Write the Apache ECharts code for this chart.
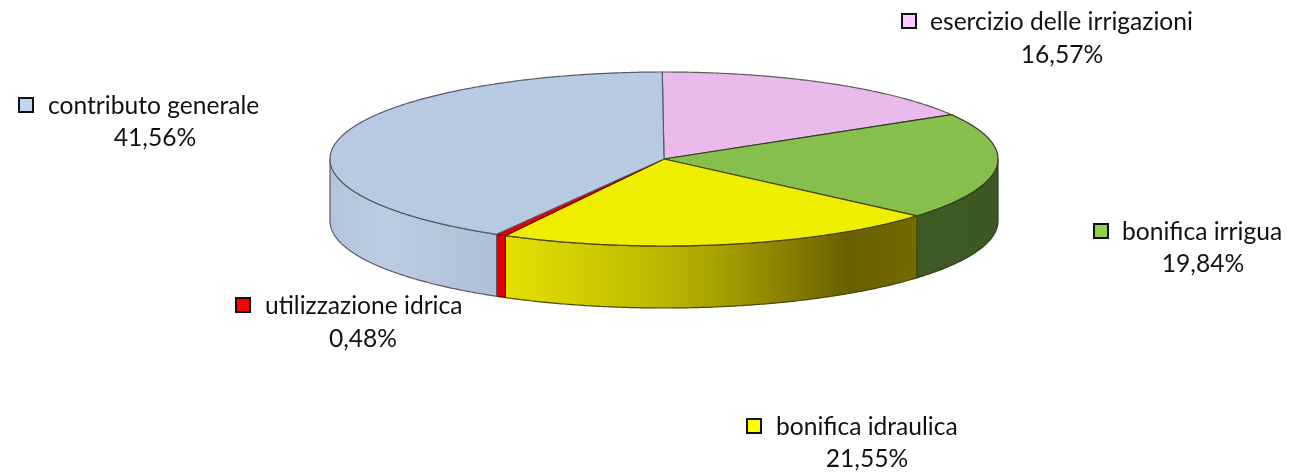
<!DOCTYPE html>
<html>
<head>
<meta charset="utf-8">
<style>
  html, body { margin: 0; padding: 0; background: #fff; }
  #chart { width: 1289px; height: 474px; }
</style>
<script src="https://cdn.jsdelivr.net/npm/echarts@6/dist/echarts.min.js"></script>
</head>
<body>
<div id="chart"></div>
<script>
// clockwise from 12 o'clock
const categories = ['esercizio delle irrigazioni', 'bonifica irrigua', 'bonifica idraulica', 'utilizzazione idrica', 'contributo generale'];
const shares = [16.57, 19.84, 21.55, 0.48, 41.56];
const shareLabels = ['16,57%', '19,84%', '21,55%', '0,48%', '41,56%'];

const topColors = ['#eabbea', '#86bf4c', '#f0ee00', '#e60000', '#b8cae1'];
const keyColors = ['#ffccff', '#92d050', '#ffff00', '#ff0000', '#c0d5ee'];
const wallColors = [
  ['#eabbea', '#eabbea'],
  ['#3f5b25', '#3c5723'],
  ['#e4e000', '#d4cf00', '#c2bc00', '#aaa400', '#8c8300', '#686000', '#746a00'],
  ['#e60000', '#e60000'],
  ['#b3c4da', '#bccde3', '#b4c5dc', '#aebfd6']
];
const edgeColors = ['#5c5c5c', '#2f3f1c', '#4a4500', '#7a0000', '#555c68'];

// legend key left edge, key centre y, text left edge, text centre x, second row centre y
const labelBoxes = [
  [901, 21, 930, 1062, 55],
  [1093, 231, 1122, 1203, 264],
  [746, 426, 776, 867, 459],
  [235, 305, 265, 363, 339],
  [18, 105, 48, 155, 138]
];

const cx = 664, cy = 159, rx = 334, ry = 87, depth = 62;
const startAngle = -0.3 * Math.PI / 180;
const total = shares.reduce((a, b) => a + b, 0);

function rimPoint(angle, dy) {
  return [cx + rx * Math.sin(angle), cy + dy - ry * Math.cos(angle)];
}

function arcPoints(from, to, dy) {
  let pts = [];
  let steps = Math.max(2, Math.ceil((to - from) * 120));
  for (let i = 0; i <= steps; i++) {
    pts.push(rimPoint(from + (to - from) * i / steps, dy));
  }
  return pts;
}

function wallGradient(stops) {
  return new echarts.graphic.LinearGradient(0, 0, 1, 0, stops.map((color, i) => ({
    offset: i / (stops.length - 1),
    color: color
  })));
}

function renderSlice(params, api) {
  let idx = params.dataIndex;
  let before = shares.slice(0, idx).reduce((a, b) => a + b, 0);
  let from = startAngle + before / total * Math.PI * 2;
  let to = startAngle + (before + api.value(0)) / total * Math.PI * 2;
  let children = [];

  // only the front half of the rim shows a wall
  let wallFrom = Math.max(from, Math.PI / 2);
  let wallTo = Math.min(to, Math.PI * 1.5);
  if (wallTo > wallFrom) {
    let points = arcPoints(wallFrom, wallTo, 0).concat(arcPoints(wallFrom, wallTo, depth).reverse());
    children.push({
      type: 'polygon',
      shape: { points: points },
      style: { fill: wallGradient(wallColors[idx]), stroke: edgeColors[idx], lineWidth: 1.2 }
    });
  }

  children.push({
    type: 'polygon',
    shape: { points: [[cx, cy]].concat(arcPoints(from, to, 0)) },
    style: { fill: topColors[idx], stroke: edgeColors[idx], lineWidth: 1.2 }
  });

  let box = labelBoxes[idx];
  children.push({
    type: 'rect',
    shape: { x: box[0] + 1, y: box[1] - 7, width: 14, height: 14 },
    style: { fill: keyColors[idx], stroke: '#111', lineWidth: 2 }
  });
  children.push({
    type: 'text',
    style: { x: box[2], y: box[1] + 1, text: categories[idx], fill: '#111', font: '24.6px Lato', textVerticalAlign: 'middle' }
  });
  children.push({
    type: 'text',
    style: { x: box[3], y: box[4], text: shareLabels[idx], fill: '#111', font: '24.6px Lato', textAlign: 'center', textVerticalAlign: 'middle' }
  });

  return { type: 'group', children: children };
}

let chart = echarts.init(document.getElementById('chart'));
chart.setOption({
  backgroundColor: '#fff',
  animation: false,
  series: [{
    type: 'custom',
    coordinateSystem: 'none',
    renderItem: renderSlice,
    data: shares.map((v) => [v])
  }]
});
</script>
</body>
</html>
